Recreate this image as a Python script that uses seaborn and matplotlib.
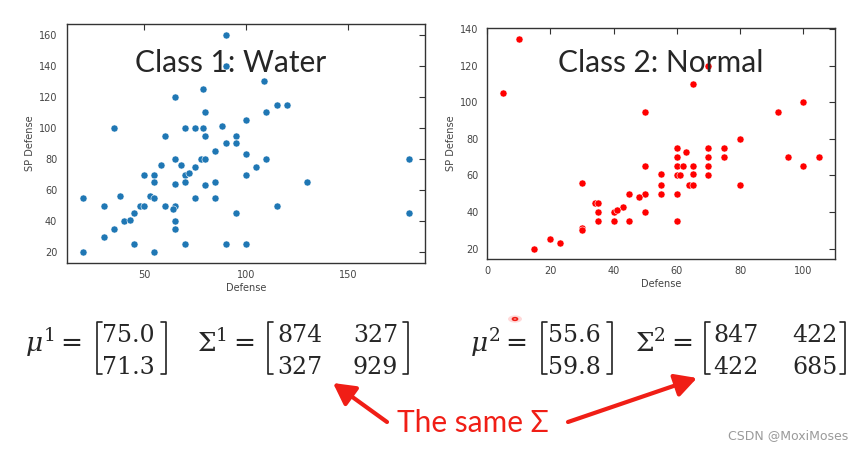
import matplotlib
matplotlib.use("Agg")
import matplotlib.pyplot as plt
from matplotlib.lines import Line2D
from matplotlib.patches import FancyArrowPatch, Circle
import seaborn as sns

W, H = 865, 450

# Class 1: Water (Defense, SP Defense)
water_defense = [90, 90, 79, 109, 65, 115, 120, 110, 80, 35, 70, 75, 79, 88, 100,
                 60, 80, 95, 90, 95, 85, 100, 65, 78, 80, 110, 180, 58, 68, 75,
                 105, 50, 55, 70, 72, 100, 55, 70, 85, 130, 65, 80, 20, 30, 38,
                 53, 55, 75, 85, 48, 50, 60, 65, 64, 115, 45, 95, 180, 40, 43,
                 65, 35, 65, 30, 45, 70, 90, 100, 20, 55]
water_spdef = [160, 140, 125, 130, 120, 115, 115, 110, 110, 100, 100, 100, 100, 101, 105,
               95, 95, 95, 90, 90, 85, 83, 80, 80, 80, 80, 80, 76, 76, 75,
               75, 70, 70, 70, 71, 70, 65, 65, 65, 65, 64, 63, 55, 50, 56,
               56, 55, 55, 55, 50, 50, 50, 50, 48, 50, 45, 45, 45, 40, 41,
               40, 35, 35, 30, 25, 25, 25, 25, 20, 20]

# Class 2: Normal (Defense, SP Defense)
normal_defense = [10, 5, 70, 65, 50, 92, 100, 80, 60, 63, 70, 75, 60, 70, 75,
                  95, 105, 50, 60, 62, 65, 70, 100, 55, 65, 60, 61, 70, 30, 55,
                  64, 65, 80, 45, 50, 55, 60, 48, 34, 35, 43, 35, 40, 41, 50,
                  35, 40, 45, 60, 30, 30, 20, 23, 15]
normal_spdef = [135, 105, 120, 110, 95, 95, 100, 80, 75, 73, 75, 75, 70, 70, 70,
                70, 70, 65, 65, 65, 65, 65, 65, 61, 61, 60, 60, 60, 56, 55,
                55, 55, 55, 50, 50, 50, 50, 48, 45, 45, 43, 40, 40, 41, 40,
                35, 35, 35, 35, 31, 30, 25, 23, 20]

mu1 = ["75.0", "71.3"]
sigma1 = [["874", "327"], ["327", "929"]]
mu2 = ["55.6", "59.8"]
sigma2 = [["847", "422"], ["422", "685"]]

RED = "#f01e16"

sns.set_style("white")
plt.rcParams["mathtext.fontset"] = "dejavuserif"


def px(x, y):
    return x / W, 1 - y / H


def style_axes(ax, ypad):
    for s in ax.spines.values():
        s.set_color("#333333")
        s.set_linewidth(1.0)
    ax.tick_params(direction="in", length=4, width=0.8, color="#333333",
                   top=True, right=True, labelsize=7, labelcolor="#444444")
    ax.tick_params(axis="y", pad=ypad)
    ax.tick_params(axis="x", pad=5)
    ax.set_xlabel("Defense", fontsize=7, color="#444444", labelpad=2)
    ax.set_ylabel("SP Defense", fontsize=7, color="#444444", labelpad=3)


fig = plt.figure(figsize=(W / 100, H / 100), dpi=100)

ax1 = fig.add_axes([67 / W, 1 - 263 / H, (425 - 67) / W, (263 - 24) / H])
sns.scatterplot(x=water_defense, y=water_spdef, color="#1f77b4", s=26,
                edgecolor="white", linewidth=0.4, ax=ax1)
style_axes(ax1, 7)
ax1.set_xticks([50, 100, 150])
ax1.set_yticks(range(20, 161, 20))
ax1.text(0.458, 0.837, "Class 1: Water", transform=ax1.transAxes, ha="center",
         va="center", fontsize=21.5, family=["Lato", "DejaVu Sans"], zorder=5)

ax2 = fig.add_axes([487 / W, 1 - 259 / H, (835 - 487) / W, (259 - 28) / H])
sns.scatterplot(x=normal_defense, y=normal_spdef, color="red", s=26,
                edgecolor="white", linewidth=0.4, ax=ax2)
style_axes(ax2, 6)
ax2.set_xticks(range(0, 101, 20))
ax2.set_yticks(range(20, 141, 20))
ax2.text(0.5, 0.848, "Class 2: Normal", transform=ax2.transAxes, ha="center",
         va="center", fontsize=21.5, family=["Lato", "DejaVu Sans"], zorder=5)

# formulas below the plots
MATH = dict(fontsize=19, family="DejaVu Serif", ha="left", va="baseline")
NUM = dict(fontsize=17, family="DejaVu Serif", ha="left", va="baseline")


def bracket(x, side, top=322, bottom=374, serif=5):
    d = serif if side == "left" else -serif
    xs = [x + d, x, x, x + d]
    ys = [top, top, bottom, bottom]
    fx = [v / W for v in xs]
    fy = [1 - v / H for v in ys]
    fig.add_artist(Line2D(fx, fy, color="#222222", lw=1.2,
                          transform=fig.transFigure))


def vector(x0, x1, col_x, vals):
    bracket(x0, "left")
    bracket(x1, "right")
    fig.text(*px(col_x, 342), vals[0], **NUM)
    fig.text(*px(col_x, 374), vals[1], **NUM)


def matrix(x0, x1, cols, vals):
    bracket(x0, "left")
    bracket(x1, "right")
    for r, yb in enumerate([342, 374]):
        for c, cx in enumerate(cols):
            fig.text(*px(cx, yb), vals[r][c], **NUM)


fig.text(*px(25, 352), r"$\mu^1 =$", **MATH)
vector(97, 166, 102, mu1)
fig.text(*px(197, 352), r"$\Sigma^1 =$", **MATH)
matrix(268, 408, [277, 353], sigma1)

fig.text(*px(470, 352), r"$\mu^2 =$", **MATH)
vector(542, 612, 548, mu2)
fig.text(*px(635, 352), r"$\Sigma^2 =$", **MATH)
matrix(705, 845, [713, 792], sigma2)

fig.text(*px(473, 432), "The same Σ", fontsize=21.5, color=RED,
         family=["Lato", "DejaVu Sans"], ha="center", va="baseline")

for tail, head in [((387, 422), (333, 383)), ((568, 422), (697, 378))]:
    fig.add_artist(FancyArrowPatch(px(*tail), px(*head), transform=fig.transFigure,
                                   arrowstyle="-|>,head_length=0.65,head_width=0.35",
                                   mutation_scale=20, lw=3, color=RED,
                                   shrinkA=0, shrinkB=0))

# laser pointer dot
fig.add_artist(Circle(px(515, 319), 7 / W, transform=fig.transFigure,
                      color="#ffb3b3", alpha=0.5, lw=0))
fig.add_artist(Circle(px(515, 319), 2.5 / W, transform=fig.transFigure,
                      fill=False, ec=RED, lw=1.2))

fig.text(*px(848, 436), "CSDN @MoxiMoses", fontsize=9, color="#9a9a9a",
         ha="right", va="center")

fig.savefig("out.png", dpi=100)
